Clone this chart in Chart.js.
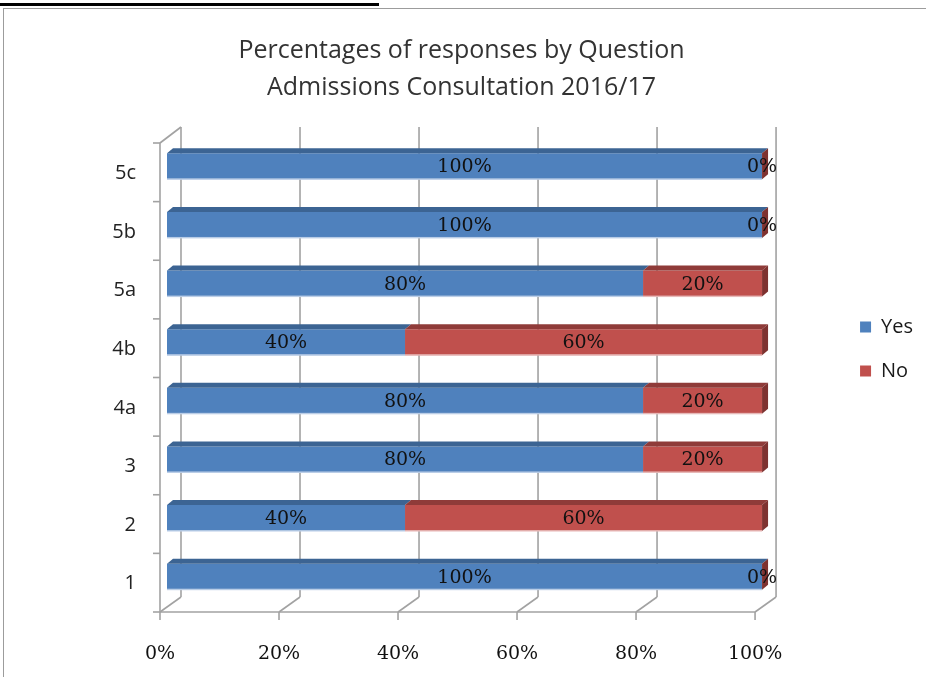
<!DOCTYPE html>
<html>
<head>
<meta charset="utf-8">
<script src="https://cdn.jsdelivr.net/npm/chart.js@4.4.1/dist/chart.umd.min.js"></script>
<style>
  html, body { margin: 0; padding: 0; background: #fff; width: 926px; height: 677px; overflow: hidden; }
  #rule { position: absolute; left: 0; top: 3px; width: 379px; height: 3px; background: #000; }
  #frame { position: absolute; left: 3px; top: 8px; width: 923px; height: 669px; border-left: 1.5px solid #9c9c9c; border-top: 1.5px solid #9c9c9c; box-sizing: border-box; }
  #c { position: absolute; left: 0; top: 0; }
</style>
</head>
<body>
<div id="rule"></div>
<div id="frame"></div>
<canvas id="c" width="926" height="677"></canvas>
<script>
// Questions, bottom to top on the chart
const questions = ['1', '2', '3', '4a', '4b', '5a', '5b', '5c'];
const yesPct = [100, 40, 80, 80, 40, 80, 100, 100];
const noPct  = [0, 60, 20, 20, 60, 20, 0, 0];
const xTicks = [0, 20, 40, 60, 80, 100];
const seriesNames = ['Yes', 'No'];
const titleLines = ['Percentages of responses by Question', 'Admissions Consultation 2016/17'];

const FRONT_COLORS = ['#4F81BD', '#C0504D'];
const TOP_COLORS = ['#3C6493', '#8F3B39'];
const SIDE_COLORS = ['#385C88', '#7E3230'];
const EDGE_COLORS = ['rgba(190,208,232,0.95)', 'rgba(232,188,186,0.95)'];

// depth offsets for the pseudo-3D frame (relative to the bar plane)
const FRONT = { dx: -7, dy: 6 };
const BACK = { dx: 14, dy: -10 };
const BAR = { dx: 6, dy: -5 };

function line(ctx, x1, y1, x2, y2) {
  ctx.beginPath(); ctx.moveTo(x1, y1); ctx.lineTo(x2, y2); ctx.stroke();
}
function poly(ctx, pts, color) {
  ctx.beginPath();
  ctx.moveTo(pts[0][0], pts[0][1]);
  for (let i = 1; i < pts.length; i++) ctx.lineTo(pts[i][0], pts[i][1]);
  ctx.closePath();
  ctx.fillStyle = color;
  ctx.fill();
}

// back wall, floor and front axis lines, plus bar depth faces and value labels
const depthFrame = {
  id: 'depthFrame',
  beforeDatasetsDraw(chart) {
    const ctx = chart.ctx, a = chart.chartArea, xs = chart.scales.x;
    ctx.save();
    ctx.strokeStyle = '#a2a2a2';
    ctx.lineWidth = 1.6;
    const fy = a.bottom + FRONT.dy;
    const by = a.bottom + BACK.dy + 1;
    const ty = a.top + BACK.dy;
    xTicks.forEach(v => {
      const x = xs.getPixelForValue(v);
      line(ctx, x + BACK.dx, ty, x + BACK.dx, by);
      line(ctx, x + FRONT.dx, fy, x + BACK.dx, by);
      line(ctx, x + FRONT.dx, fy, x + FRONT.dx, fy + 8);
    });
    const x0 = xs.getPixelForValue(0) + FRONT.dx;
    const x1 = xs.getPixelForValue(100) + FRONT.dx;
    line(ctx, x0, fy, x1, fy);
    const fTop = a.top + FRONT.dy;
    line(ctx, x0, fTop, x0, fy);
    line(ctx, x0, fTop, x0 + (BACK.dx - FRONT.dx), ty);
    const step = (a.bottom - a.top) / questions.length;
    for (let i = 0; i <= questions.length; i++) {
      const y = a.top + i * step + FRONT.dy;
      line(ctx, x0 - 7, y, x0, y);
    }
    ctx.restore();
  },
  afterDatasetsDraw(chart) {
    const ctx = chart.ctx;
    const last = chart.data.datasets.length - 1;
    ctx.save();
    chart.data.datasets.forEach((ds, di) => {
      const meta = chart.getDatasetMeta(di);
      meta.data.forEach(bar => {
        const p = bar.getProps(['x', 'y', 'base', 'height'], true);
        const left = Math.min(p.x, p.base), right = Math.max(p.x, p.base);
        const top = p.y - p.height / 2, bottom = p.y + p.height / 2;
        if (right - left > 0.5) {
          poly(ctx, [[left, top], [right, top], [right + BAR.dx, top + BAR.dy], [left + BAR.dx, top + BAR.dy]], TOP_COLORS[di]);
          ctx.fillStyle = EDGE_COLORS[di];
          ctx.fillRect(left, bottom - 1, right - left, 1.5);
        }
        if (di === last) {
          poly(ctx, [[right, top], [right + BAR.dx, top + BAR.dy], [right + BAR.dx, bottom + BAR.dy], [right, bottom]], SIDE_COLORS[di]);
        }
      });
    });
    ctx.font = '19px "DejaVu Serif"';
    ctx.fillStyle = '#111';
    ctx.textAlign = 'center';
    ctx.textBaseline = 'middle';
    chart.data.datasets.forEach((ds, di) => {
      const meta = chart.getDatasetMeta(di);
      meta.data.forEach((bar, i) => {
        const p = bar.getProps(['x', 'y', 'base'], true);
        ctx.fillText(ds.data[i] + '%', (p.x + p.base) / 2, p.y + 1);
      });
    });
    ctx.restore();
  }
};

new Chart(document.getElementById('c'), {
  type: 'bar',
  data: {
    labels: questions,
    datasets: [
      { label: seriesNames[0], data: yesPct, backgroundColor: FRONT_COLORS[0], borderWidth: 0 },
      { label: seriesNames[1], data: noPct, backgroundColor: FRONT_COLORS[1], borderWidth: 0 }
    ]
  },
  options: {
    indexAxis: 'y',
    responsive: false,
    animation: false,
    events: [],
    barPercentage: 0.444,
    categoryPercentage: 1,
    layout: { padding: { left: 0, right: 3, top: 0, bottom: 0 } },
    scales: {
      x: {
        stacked: true,
        min: 0, max: 100,
        grid: { display: false, drawTicks: false },
        border: { display: false },
        afterBuildTicks(s) { s.ticks = xTicks.map(v => ({ value: v })); },
        afterFit(s) { s.height = 71; },
        ticks: {
          callback: v => v + '%',
          labelOffset: -7,
          padding: 37,
          maxRotation: 0,
          color: '#111',
          font: { family: 'DejaVu Serif', size: 19 }
        }
      },
      y: {
        stacked: true,
        reverse: true,
        grid: { display: false, drawTicks: false },
        border: { display: false },
        afterFit(s) { s.width = 167; },
        ticks: {
          padding: 31,
          labelOffset: 7,
          color: '#222',
          font: { family: 'Open Sans', size: 20 }
        }
      },
      yRight: {
        type: 'category',
        labels: questions,
        position: 'right',
        display: true,
        grid: { display: false, drawTicks: false },
        border: { display: false },
        ticks: { display: false },
        afterFit(s) { s.width = 74; }
      }
    },
    plugins: {
      title: {
        display: true,
        text: titleLines,
        color: '#333',
        font: { family: 'Open Sans', size: 25, weight: 'normal', lineHeight: 1.48 },
        padding: { top: 32, bottom: 31 }
      },
      legend: {
        position: 'right',
        align: 'start',
        title: { display: true, text: '', font: { size: 12 }, padding: { top: 278.6, bottom: 0 } },
        labels: {
          boxWidth: 11, boxHeight: 11, padding: 24,
          color: '#1a1a1a',
          font: { family: 'Open Sans', size: 20 }
        }
      },
      tooltip: { enabled: false }
    }
  },
  plugins: [depthFrame]
});
</script>
</body>
</html>
